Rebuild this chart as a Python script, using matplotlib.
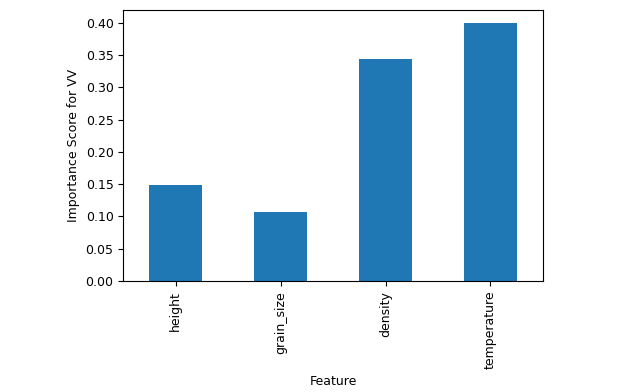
import pandas as pd
import matplotlib
matplotlib.use('Agg')
import matplotlib.pyplot as plt

features = ['height', 'grain_size', 'density', 'temperature']
scores = [0.149, 0.107, 0.344, 0.400]

s = pd.Series(scores, index=pd.Index(features, name='Feature'))

fig = plt.figure(figsize=(6.32, 3.92), dpi=100)
ax = fig.add_axes([0.195, 0.283, 0.664, 0.692])
s.plot(kind='bar', ax=ax, color='#1f77b4')
ax.set_xlabel('Feature')
ax.set_ylabel('Importance Score for VV')
ax.tick_params(labelsize=9)
ax.xaxis.label.set_size(9)
ax.yaxis.label.set_size(9)
fig.savefig('out.png', dpi=100)
